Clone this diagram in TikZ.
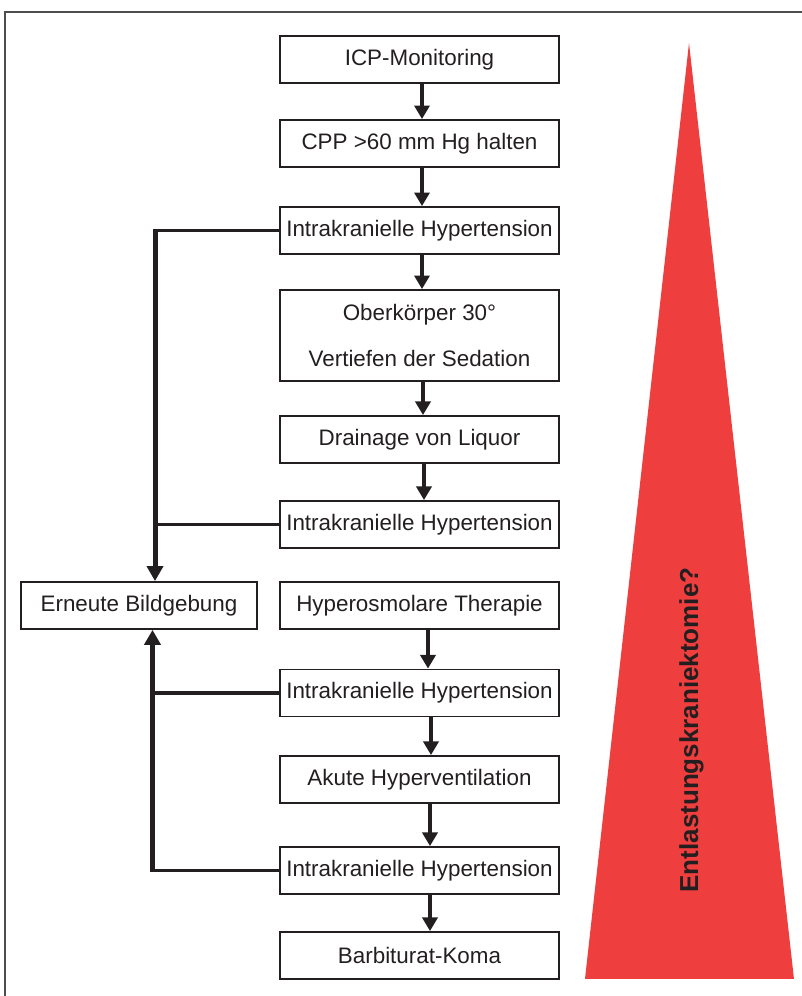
\documentclass[tikz,border=0pt]{standalone}
\usepackage{fontspec}
\setmainfont{Liberation Sans}
\usepackage{tikz}
\usetikzlibrary{arrows.meta}
\definecolor{ink}{RGB}{35,31,32}
\definecolor{alarmred}{RGB}{239,62,62}

\begin{document}
\begin{tikzpicture}[every node/.style={draw=ink, line width=0.9pt, rectangle, minimum width=4.903cm, minimum height=0.826cm, inner sep=0pt, font=\fontsize{11.2}{13}\selectfont, text=ink},
flow/.style={-{Triangle[width=7.5pt,length=6.8pt]}, line width=2.2pt, draw=ink},
feed/.style={line width=1.7pt, draw=ink},
trunk/.style={-{Triangle[width=8pt,length=7.5pt]}, line width=2.5pt, draw=ink}]
\useasboundingbox (0,0) rectangle (14.094,-17.503);
\draw[line width=0.7pt, draw=ink!80] (0.088,-17.503) -- (0.088,-0.211) -- (14.094,-0.211);

\fill[alarmred] (12.108,-0.756) -- (13.953,-17.204) -- (10.280,-17.204) -- cycle;
\node[draw=none, rotate=90, minimum width=0pt, minimum height=0pt, font=\bfseries\fontsize{13}{15}\selectfont] (dk) at (12.150,-12.828) {Entlastungskraniektomie?};

\node (icp) at (7.372,-1.046) {ICP-Monitoring};
\node (cpp) at (7.372,-2.522) {CPP >60 mm Hg halten};
\node (hyp1) at (7.372,-4.051) {Intrakranielle Hypertension};
\node[minimum height=1.599cm, align=center] (sed) at (7.372,-5.896) {Oberkörper 30°\\[10.3pt]Vertiefen der Sedation};
\node (liq) at (7.372,-7.723) {Drainage von Liquor};
\node (hyp2) at (7.372,-9.217) {Intrakranielle Hypertension};
\node (osm) at (7.372,-10.640) {Hyperosmolare Therapie};
\node (hyp3) at (7.372,-12.178) {Intrakranielle Hypertension};
\node (vent) at (7.372,-13.698) {Akute Hyperventilation};
\node (hyp4) at (7.372,-15.297) {Intrakranielle Hypertension};
\node (barb) at (7.372,-16.791) {Barbiturat-Koma};
\node[minimum width=4.147cm] (bild) at (2.443,-10.640) {Erneute Bildgebung};

\coordinate (j1) at (2.724,-4.051);
\coordinate (j4) at (2.680,-15.297);

\draw[flow] ([xshift=1.25pt]icp.south) -- ([xshift=1.25pt]cpp.north);
\draw[flow] ([xshift=1.25pt]cpp.south) -- ([xshift=1.25pt]hyp1.north);
\draw[flow] ([xshift=1.25pt]hyp1.south) -- ([xshift=1.25pt]sed.north);
\draw[flow] ([xshift=1.75pt]sed.south) -- ([xshift=1.75pt]liq.north);
\draw[flow] ([xshift=2.25pt]liq.south) -- ([xshift=2.25pt]hyp2.north);
\draw[flow] ([xshift=4.25pt]osm.south) -- ([xshift=4.25pt]hyp3.north);
\draw[flow] ([xshift=5.75pt]hyp3.south) -- ([xshift=5.75pt]vent.north);
\draw[flow] ([xshift=5.25pt]vent.south) -- ([xshift=5.25pt]hyp4.north);
\draw[flow] ([xshift=5.25pt]hyp4.south) -- ([xshift=5.25pt]barb.north);

\draw[feed] (hyp1.west) -- (j1);
\draw[feed] (hyp2.west) -- (hyp2.west -| j1);
\draw[trunk] ([yshift=0.85pt]j1) -- (bild.north -| j1);
\draw[feed] (hyp4.west) -- (j4);
\draw[feed] (hyp3.west) -- (hyp3.west -| j4);
\draw[trunk] ([yshift=-0.85pt]j4) -- (bild.south -| j4);
\end{tikzpicture}
\end{document}
